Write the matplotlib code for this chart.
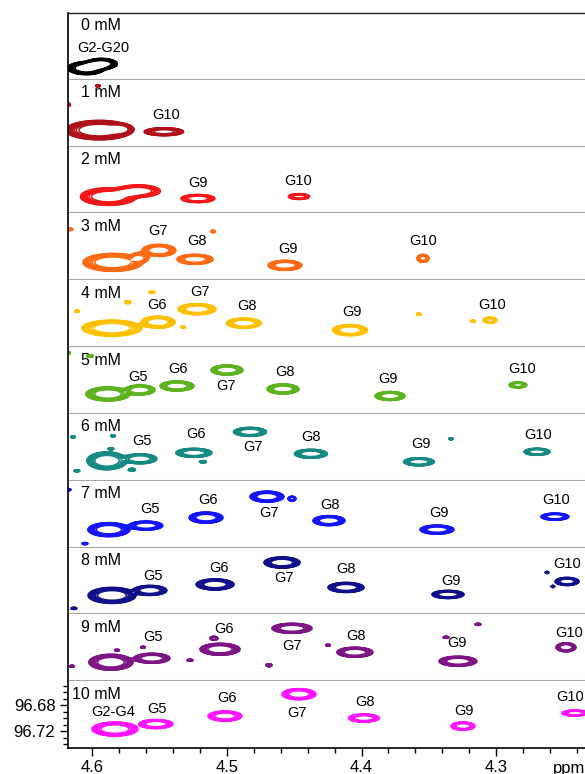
import numpy as np
import matplotlib
matplotlib.use("Agg")
import matplotlib.pyplot as plt
from matplotlib.ticker import MultipleLocator, FixedLocator, FixedFormatter

plt.rcParams['font.family'] = ['Liberation Sans', 'DejaVu Sans']

# ---------------- data ----------------
concentrations = [0, 1, 2, 3, 4, 5, 6, 7, 8, 9, 10]
colors = ['#000000', '#b0101a', '#f41818', '#ff6a14', '#ffc000', '#5cb31e',
          '#168a82', '#1414ff', '#10108a', '#7d1585', '#ff14ff']

# peaks: (1H ppm, 13C ppm, half-width 1H, half-width 13C, relative amplitude)
peaks_0mM = [(4.6045, 96.7280, 0.0140, 0.0100, 1.0), (4.5935, 96.7215, 0.0120, 0.0085, 1.0)]
peaks_1mM = [(4.5950, 96.7205, 0.0250, 0.0150, 1.0), (4.5790, 96.7190, 0.0090, 0.0080, 0.5),
             (4.5469, 96.7230, 0.0149, 0.0062, 0.9),
             (4.5959, 96.6522, 0.0020, 0.0020, 0.5), (4.6182, 96.6814, 0.0020, 0.0030, 0.5)]
peaks_2mM = [(4.5880, 96.7200, 0.0210, 0.0135, 1.0), (4.5660, 96.7115, 0.0165, 0.0095, 1.0),
             (4.5216, 96.7230, 0.0126, 0.0062, 1.0), (4.4465, 96.7199, 0.0082, 0.0046, 0.8)]
peaks_3mM = [(4.5848, 96.7184, 0.0223, 0.0138, 1.0), (4.5647, 96.7107, 0.0070, 0.0080, 0.8),
             (4.5506, 96.6999, 0.0126, 0.0092, 1.0), (4.5238, 96.7137, 0.0134, 0.0077, 1.0),
             (4.4569, 96.7230, 0.0126, 0.0077, 1.0), (4.3543, 96.7122, 0.0045, 0.0062, 0.9),
             (4.6168, 96.6676, 0.0025, 0.0020, 0.5), (4.5104, 96.6707, 0.0020, 0.0020, 0.5)]
peaks_4mM = [(4.5855, 96.7168, 0.0223, 0.0123, 1.0), (4.5513, 96.7076, 0.0126, 0.0092, 1.0),
             (4.5223, 96.6876, 0.0141, 0.0085, 1.0), (4.4874, 96.7091, 0.0130, 0.0077, 1.0),
             (4.4086, 96.7199, 0.0130, 0.0085, 1.0), (4.3045, 96.7045, 0.0052, 0.0046, 0.9),
             (4.5737, 96.6768, 0.0025, 0.0025, 0.55), (4.5558, 96.6615, 0.0025, 0.0018, 0.5),
             (4.6116, 96.6907, 0.0020, 0.0018, 0.5), (4.5327, 96.7153, 0.0018, 0.0018, 0.5),
             (4.3573, 96.6953, 0.0020, 0.0018, 0.5), (4.3171, 96.7061, 0.0020, 0.0018, 0.5)]
peaks_5mM = [(4.5885, 96.7153, 0.0164, 0.0108, 1.0), (4.5647, 96.7091, 0.0112, 0.0077, 1.0),
             (4.5372, 96.7030, 0.0126, 0.0077, 1.0), (4.5000, 96.6784, 0.0119, 0.0077, 1.0),
             (4.4584, 96.7076, 0.0119, 0.0077, 1.0), (4.3788, 96.7184, 0.0112, 0.0069, 1.0),
             (4.2837, 96.7014, 0.0067, 0.0046, 0.9),
             (4.6182, 96.6522, 0.0020, 0.0025, 0.5), (4.6019, 96.6568, 0.0030, 0.0020, 0.5)]
peaks_6mM = [(4.5893, 96.7153, 0.0149, 0.0138, 1.0), (4.5647, 96.7122, 0.0126, 0.0077, 1.0),
             (4.5246, 96.7030, 0.0134, 0.0069, 1.0), (4.4829, 96.6707, 0.0123, 0.0069, 1.0),
             (4.4376, 96.7045, 0.0123, 0.0069, 1.0), (4.3573, 96.7168, 0.0115, 0.0062, 1.0),
             (4.2695, 96.7014, 0.0097, 0.0054, 1.0),
             (4.5707, 96.7291, 0.0030, 0.0025, 0.55), (4.5179, 96.7168, 0.0030, 0.0020, 0.5),
             (4.6145, 96.6784, 0.0020, 0.0018, 0.5), (4.5848, 96.6768, 0.0020, 0.0018, 0.5),
             (4.5863, 96.6968, 0.0025, 0.0018, 0.5), (4.6116, 96.7307, 0.0025, 0.0018, 0.5),
             (4.3335, 96.6814, 0.0018, 0.0018, 0.5)]
peaks_7mM = [(4.5878, 96.7184, 0.0156, 0.0108, 1.0), (4.5603, 96.7122, 0.0126, 0.0069, 1.0),
             (4.5156, 96.6999, 0.0126, 0.0085, 1.0), (4.4703, 96.6676, 0.0126, 0.0085, 1.0),
             (4.4517, 96.6707, 0.0030, 0.0038, 0.8), (4.4242, 96.7045, 0.0119, 0.0077, 1.0),
             (4.3439, 96.7184, 0.0126, 0.0069, 1.0), (4.2562, 96.6984, 0.0104, 0.0054, 1.0),
             (4.6182, 96.6568, 0.0025, 0.0020, 0.5), (4.6056, 96.7399, 0.0025, 0.0018, 0.5)]
peaks_8mM = [(4.5855, 96.7168, 0.0178, 0.0123, 1.0), (4.5573, 96.7091, 0.0126, 0.0077, 1.0),
             (4.5089, 96.6999, 0.0141, 0.0085, 1.0), (4.4591, 96.6661, 0.0134, 0.0085, 1.0),
             (4.4115, 96.7045, 0.0134, 0.0077, 1.0), (4.3357, 96.7153, 0.0119, 0.0062, 1.0),
             (4.2472, 96.6953, 0.0089, 0.0062, 1.0),
             (4.2621, 96.6814, 0.0015, 0.0018, 0.5), (4.2577, 96.7030, 0.0015, 0.0018, 0.5),
             (4.6138, 96.7368, 0.0025, 0.0018, 0.5)]
peaks_9mM = [(4.5863, 96.7168, 0.0164, 0.0123, 1.0), (4.5558, 96.7107, 0.0134, 0.0077, 1.0),
             (4.5052, 96.6968, 0.0149, 0.0092, 1.0), (4.5097, 96.6799, 0.0030, 0.0031, 0.8),
             (4.4517, 96.6645, 0.0149, 0.0077, 1.0), (4.4049, 96.7014, 0.0134, 0.0077, 1.0),
             (4.3283, 96.7153, 0.0141, 0.0077, 1.0), (4.2480, 96.6938, 0.0074, 0.0069, 1.0),
             (4.4688, 96.7214, 0.0025, 0.0025, 0.55), (4.5275, 96.7137, 0.0025, 0.0018, 0.5),
             (4.6153, 96.7230, 0.0020, 0.0018, 0.5), (4.5625, 96.6938, 0.0020, 0.0018, 0.5),
             (4.3134, 96.6584, 0.0025, 0.0018, 0.5), (4.3372, 96.6784, 0.0025, 0.0018, 0.5),
             (4.4249, 96.6907, 0.0020, 0.0018, 0.5), (4.5818, 96.6984, 0.0020, 0.0018, 0.5)]
peaks_10mM = [(4.5833, 96.7168, 0.0171, 0.0108, 1.0), (4.5528, 96.7091, 0.0126, 0.0069, 1.0),
              (4.5015, 96.6968, 0.0126, 0.0077, 1.0), (4.4465, 96.6630, 0.0126, 0.0085, 1.0),
              (4.3982, 96.6999, 0.0115, 0.0062, 1.0), (4.3246, 96.7122, 0.0089, 0.0062, 1.0),
              (4.2413, 96.6922, 0.0097, 0.0046, 1.0)]

labels_0mM = [("G2-G20", 4.5922, 96.6968)]
labels_1mM = [("G10", 4.5454, 96.6968)]
labels_2mM = [("G9", 4.5216, 96.6984), ("G10", 4.4472, 96.6953)]
labels_3mM = [("G7", 4.5513, 96.6707), ("G8", 4.5223, 96.6861), ("G9", 4.4547, 96.6984),
              ("G10", 4.3543, 96.6861)]
labels_4mM = [("G6", 4.5521, 96.6814), ("G7", 4.5201, 96.6615), ("G8", 4.4852, 96.6830),
              ("G9", 4.4071, 96.6922), ("G10", 4.3030, 96.6814)]
labels_5mM = [("G5", 4.5662, 96.6891), ("G6", 4.5365, 96.6768), ("G7", 4.5008, 96.7030),
              ("G8", 4.4569, 96.6814), ("G9", 4.3803, 96.6922), ("G10", 4.2807, 96.6768)]
labels_6mM = [("G5", 4.5632, 96.6845), ("G6", 4.5231, 96.6738), ("G7", 4.4807, 96.6938),
              ("G8", 4.4376, 96.6784), ("G9", 4.3558, 96.6891), ("G10", 4.2688, 96.6753)]
labels_7mM = [("G5", 4.5573, 96.6861), ("G6", 4.5141, 96.6722), ("G7", 4.4688, 96.6922),
              ("G8", 4.4235, 96.6799), ("G9", 4.3424, 96.6922), ("G10", 4.2555, 96.6722)]
labels_8mM = [("G5", 4.5551, 96.6861), ("G6", 4.5060, 96.6738), ("G7", 4.4576, 96.6907),
              ("G8", 4.4115, 96.6768), ("G9", 4.3335, 96.6938), ("G10", 4.2472, 96.6691)]
labels_9mM = [("G5", 4.5551, 96.6784), ("G6", 4.5023, 96.6661), ("G7", 4.4517, 96.6922),
              ("G8", 4.4041, 96.6768), ("G9", 4.3290, 96.6876), ("G10", 4.2457, 96.6722)]
labels_10mM = [("G2-G4", 4.5848, 96.6907), ("G5", 4.5521, 96.6861), ("G6", 4.5000, 96.6691),
               ("G7", 4.4480, 96.6922), ("G8", 4.3974, 96.6753), ("G9", 4.3238, 96.6891),
               ("G10", 4.2450, 96.6676)]

x_ticks = [4.6, 4.5, 4.4, 4.3]
x_ticklabels = ["4.6", "4.5", "4.4", "4.3"]
y_ticks = [96.68, 96.72]
y_ticklabels = ["96.68", "96.72"]

all_peaks = [peaks_0mM, peaks_1mM, peaks_2mM, peaks_3mM, peaks_4mM, peaks_5mM,
             peaks_6mM, peaks_7mM, peaks_8mM, peaks_9mM, peaks_10mM]
all_labels = [labels_0mM, labels_1mM, labels_2mM, labels_3mM, labels_4mM, labels_5mM,
              labels_6mM, labels_7mM, labels_8mM, labels_9mM, labels_10mM]

# ---------------- figure ----------------
W, H = 585, 774
fig = plt.figure(figsize=(W / 100, H / 100), dpi=100)

xlim = (4.6182, 4.2227)
ylim = (96.746, 96.643)
ax_left_px, ax_right_px = 68, 600
top_px, bot_px = 13, 748
n = len(concentrations)
panel_h = (bot_px - top_px) / n

xs = np.linspace(4.63, 4.21, 1400)
ys = np.linspace(96.635, 96.755, 260)
X, Y = np.meshgrid(xs, ys)
levels = 0.2 * 1.15 ** np.arange(11)

for i, conc in enumerate(concentrations):
    y_top = top_px + i * panel_h
    ax = fig.add_axes([ax_left_px / W, 1 - (y_top + panel_h) / H,
                       (ax_right_px - ax_left_px) / W, panel_h / H])
    Z = np.zeros_like(X)
    for (px, py, wx, wy, amp) in all_peaks[i]:
        r2 = ((X - px) / wx) ** 2 + ((Y - py) / wy) ** 2
        Z += amp * np.exp(-1.6 * r2 ** 2)
    ax.contour(X, Y, Z, levels=levels, colors=colors[i], linewidths=1.1)
    for (txt, lx, ly) in all_labels[i]:
        ax.text(lx, ly, txt, ha='center', va='center', fontsize=10.5, color='black')
    ax.annotate(f"{conc} mM", xy=(0, 1), xycoords='axes fraction', xytext=(53, -13),
                textcoords='offset pixels', ha='right', va='center', fontsize=11.5)
    ax.set_xlim(*xlim)
    ax.set_ylim(*ylim)
    ax.spines['right'].set_visible(False)
    ax.spines['left'].set_color('black')
    ax.spines['left'].set_linewidth(1.2)
    if i == 0:
        ax.spines['top'].set_color('#222222')
        ax.spines['top'].set_linewidth(1.0)
    else:
        ax.spines['top'].set_visible(False)
    if i == n - 1:
        ax.spines['bottom'].set_color('black')
        ax.spines['bottom'].set_linewidth(1.2)
        ax.xaxis.set_major_locator(FixedLocator(x_ticks))
        ax.xaxis.set_major_formatter(FixedFormatter(x_ticklabels))
        ax.xaxis.set_minor_locator(MultipleLocator(0.02))
        ax.yaxis.set_major_locator(FixedLocator(y_ticks))
        ax.yaxis.set_major_formatter(FixedFormatter(y_ticklabels))
        ax.yaxis.set_minor_locator(MultipleLocator(0.01))
        ax.tick_params(which='major', direction='out', length=6, width=1, labelsize=12, pad=3)
        ax.tick_params(which='minor', direction='out', length=3.5, width=1)
        ax.tick_params(axis='y', which='both', left=True, right=False)
        ax.tick_params(axis='x', which='both', top=False, bottom=True)
    else:
        ax.spines['bottom'].set_color('#a6a6a6')
        ax.spines['bottom'].set_linewidth(1.5)
        ax.set_xticks([])
        ax.set_yticks([])

fig.text(553 / W, 1.5 / H, "ppm", ha='left', va='baseline', fontsize=12)

fig.savefig("out.png", dpi=100)
